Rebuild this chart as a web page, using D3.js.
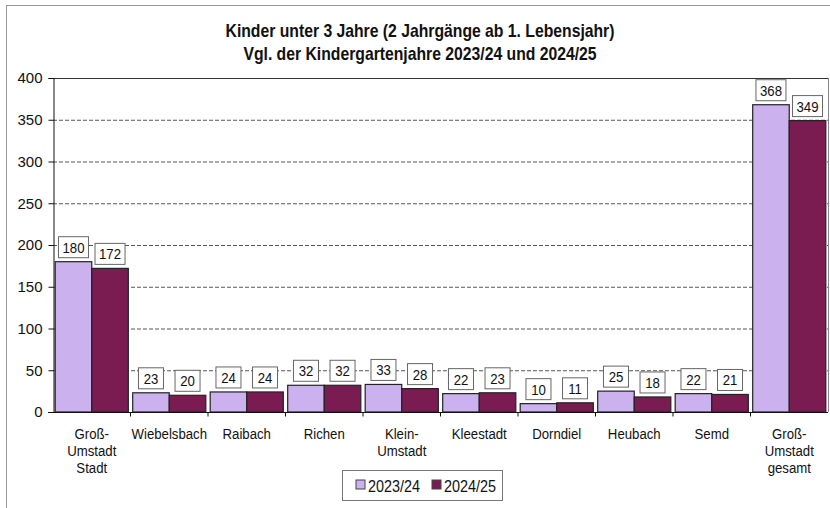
<!DOCTYPE html>
<html><head><meta charset="utf-8">
<script src="https://cdn.jsdelivr.net/npm/d3@7"></script>
<style>body{margin:0;background:#fff;}svg{display:block;}</style>
</head><body>
<svg id="c" width="830" height="508"></svg>
<script>
const categories = [["Groß-","Umstadt","Stadt"],["Wiebelsbach"],["Raibach"],["Richen"],["Klein-","Umstadt"],["Kleestadt"],["Dorndiel"],["Heubach"],["Semd"],["Groß-","Umstadt","gesamt"]];
const series2324 = [180,23,24,32,33,22,10,25,22,368];
const series2425 = [172,20,24,32,28,23,11,18,21,349];
const seriesNames = ["2023/24","2024/25"];
const yTicks = [0,50,100,150,200,250,300,350,400];
const titleLines = ["Kinder unter 3 Jahre (2 Jahrgänge ab 1. Lebensjahr)","Vgl. der Kindergartenjahre 2023/24 und 2024/25"];

const colors = ["#cbb2ee","#7a1c52"];
const font = "'Liberation Sans Narrow','Arial Narrow','Liberation Sans',Arial,sans-serif";
const svg = d3.select("#c");
const L=53, R=828, T=78, B=412;

// outer frame
svg.append("rect").attr("x",6.5).attr("y",5.5).attr("width",830).attr("height",520)
  .attr("fill","none").attr("stroke","#999").attr("stroke-width",1);

const x0 = d3.scaleBand().domain(d3.range(categories.length)).range([L,R]).paddingInner(0).paddingOuter(0);
const x1 = d3.scaleBand().domain([0,1]).range([0,x0.bandwidth()]).paddingInner(0).paddingOuter(0.06);
const y = d3.scaleLinear().domain([0,400]).range([B,T]);

// narrow text helper
function ntext(parent, x, yy, str, size, sx, opts={}){
  const gg = parent.append("g").attr("transform",`translate(${x},${yy}) scale(${sx},1)`);
  const t = gg.append("text").attr("x",0).attr("y",0).attr("text-anchor",opts.anchor||"middle")
    .attr("font-family",font).attr("font-size",size).attr("fill","#111")
    .attr("font-weight",opts.bold?"bold":"normal").text(str);
  return t;
}

// title
titleLines.forEach((t,i)=>ntext(svg,420,37+i*23,t,17.5,0.9,{bold:true}));

// gridlines
svg.append("g").selectAll("line").data(yTicks.filter(d=>d>0&&d<400)).join("line")
  .attr("x1",L).attr("x2",R).attr("y1",d=>y(d)+0.5).attr("y2",d=>y(d)+0.5)
  .attr("stroke","#555").attr("stroke-dasharray","4,2").attr("stroke-width",1);
svg.append("line").attr("x1",L).attr("x2",R).attr("y1",y(400)+0.5).attr("y2",y(400)+0.5).attr("stroke","#333");
svg.append("line").attr("x1",R+0.5).attr("x2",R+0.5).attr("y1",T).attr("y2",B).attr("stroke","#888");

// y axis
const yAxis = d3.axisLeft(y).tickValues(yTicks).tickSize(5).tickPadding(6).tickFormat(d3.format("d"));
const gy = svg.append("g").attr("transform",`translate(${L+0.5},0)`).call(yAxis);
gy.select(".domain").attr("stroke","#111");
gy.selectAll(".tick line").attr("stroke","#111");
gy.selectAll("text").attr("font-family",font).attr("font-size",15).attr("fill","#111");

// bars
const series = [series2324, series2425];
const g = svg.append("g");
categories.forEach((c,i)=>{
  series.forEach((s,j)=>{
    const bx = x0(i)+x1(j), bw = x1.bandwidth();
    g.append("rect").attr("x",bx).attr("y",y(s[i])).attr("width",bw).attr("height",B-y(s[i]))
      .attr("fill",colors[j]).attr("stroke","#222").attr("stroke-width",1.2);
    const label = String(s[i]);
    const w = label.length>2?30:25, h=21;
    const cx = bx+bw/2;
    const by = y(s[i])-4-h;
    g.append("rect").attr("x",cx-w/2).attr("y",by).attr("width",w).attr("height",h)
      .attr("fill","#fff").attr("stroke","#666").attr("stroke-width",1);
    ntext(g,cx,by+h/2+5.5,label,15,0.88);
  });
});

// x axis
const gx = svg.append("g").attr("transform",`translate(0,${B+0.5})`);
gx.append("line").attr("x1",L-5).attr("x2",R).attr("stroke","#111");
gx.selectAll("line.tk").data(d3.range(1,categories.length)).join("line").attr("class","tk")
  .attr("x1",d=>x0(d)).attr("x2",d=>x0(d)).attr("y1",0).attr("y2",4).attr("stroke","#111");
categories.forEach((c,i)=>{
  c.forEach((ln,k)=>ntext(gx,x0(i)+x0.bandwidth()/2,26+k*17,ln,15,0.88));
});

// legend
const lg = svg.append("g");
lg.append("rect").attr("x",342.5).attr("y",470.5).attr("width",160).attr("height",30)
  .attr("fill","#fff").attr("stroke","#777");
seriesNames.forEach((n,j)=>{
  const lx = 356 + j*76;
  lg.append("rect").attr("x",lx).attr("y",480).attr("width",9).attr("height",9)
    .attr("fill",colors[j]).attr("stroke","#444");
  ntext(lg,lx+12,491.5,n,16,0.9,{anchor:"start"});
});
</script>
</body></html>
